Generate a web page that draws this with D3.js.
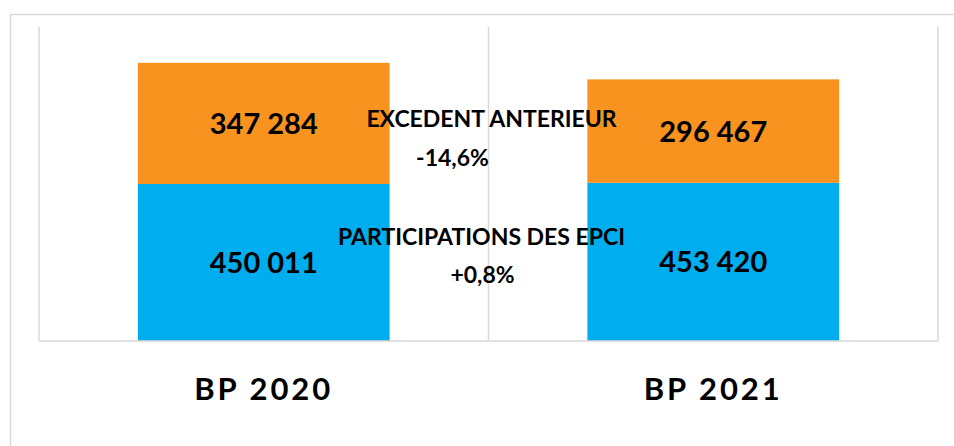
<!DOCTYPE html>
<html>
<head>
<meta charset="utf-8">
<script src="https://cdn.jsdelivr.net/npm/d3@7"></script>
<style>
  html, body { margin: 0; padding: 0; background: #fff; }
  svg { display: block; }
  text { font-family: Lato, "Liberation Sans", sans-serif; font-weight: bold; fill: #000; }
</style>
</head>
<body>
<svg id="chart" width="954" height="446"></svg>
<script>
(function () {

  const categories = ['BP 2020', 'BP 2021'];
  const participations = [450011, 453420];
  const excedent = [347284, 296467];
  const seriesNames = ['PARTICIPATIONS DES EPCI', 'EXCEDENT ANTERIEUR'];
  const changes = ['+0,8%', '-14,6%'];

  const svg = d3.select('#chart');
  const margin = { left: 39, right: 16, top: 27, bottom: 105 };
  const width = 954, height = 446;

  const x = d3.scaleBand()
    .domain(categories)
    .range([margin.left, width - margin.right])
    .paddingInner(0.44)
    .paddingOuter(0.22);

  const y = d3.scaleLinear()
    .domain([0, 900000])
    .range([height - margin.bottom, margin.top]);

  const fmt = v => d3.format(',')(v).replace(/,/g, ' ');

  // chart area border (runs off right/bottom)
  svg.append('rect')
    .attr('x', 10.5).attr('y', 14.5)
    .attr('width', 1000).attr('height', 1000)
    .attr('fill', 'none').attr('stroke', '#d9d9d9').attr('stroke-width', 1.5);

  // vertical category gridlines
  const edges = [margin.left, margin.left + (width - margin.left - margin.right) / 2, width - margin.right];
  svg.append('g').selectAll('line')
    .data(edges)
    .join('line')
    .attr('x1', d => d).attr('x2', d => d)
    .attr('y1', y(900000)).attr('y2', y(0))
    .attr('stroke', '#d9d9d9').attr('stroke-width', 1.5);

  const stacked = categories.map((c, i) => ({
    cat: c,
    segs: [
      { y0: 0, y1: participations[i], v: participations[i], color: '#00AEEF' },
      { y0: participations[i], y1: participations[i] + excedent[i], v: excedent[i], color: '#F7931E' }
    ]
  }));

  const g = svg.append('g');
  stacked.forEach(d => {
    g.selectAll(null)
      .data(d.segs)
      .join('rect')
      .attr('x', x(d.cat))
      .attr('width', x.bandwidth())
      .attr('y', s => y(s.y1))
      .attr('height', s => y(s.y0) - y(s.y1))
      .attr('fill', s => s.color);

    g.selectAll(null)
      .data(d.segs)
      .join('text')
      .attr('x', x(d.cat) + x.bandwidth() / 2)
      .attr('y', s => (y(s.y0) + y(s.y1)) / 2)
      .attr('dy', '0.36em')
      .attr('text-anchor', 'middle')
      .style('font-size', '29px')
      .text(s => fmt(s.v));
  });

  // baseline
  svg.append('line')
    .attr('x1', margin.left).attr('x2', width - margin.right)
    .attr('y1', y(0)).attr('y2', y(0))
    .attr('stroke', '#d9d9d9').attr('stroke-width', 1.5);

  // category labels
  svg.append('g').selectAll('text')
    .data(categories)
    .join('text')
    .attr('x', d => x(d) + x.bandwidth() / 2)
    .attr('y', 400)
    .attr('text-anchor', 'middle')
    .style('font-size', '31px')
    .style('letter-spacing', '3px')
    .text(d => d);

  // series annotations between the bars
  const mid = edges[1];
  const notes = [
    { name: seriesNames[1], change: changes[1], y: 127, cy: 166, dx: 3, cdx: -36 },
    { name: seriesNames[0], change: changes[0], y: 245, cy: 283, dx: -7, cdx: -6 }
  ];
  notes.forEach(n => {
    svg.append('text')
      .attr('x', mid + n.dx).attr('y', n.y)
      .attr('text-anchor', 'middle')
      .style('font-size', '23px')
      .text(n.name);
    svg.append('text')
      .attr('x', mid + n.cdx).attr('y', n.cy)
      .attr('text-anchor', 'middle')
      .style('font-size', '23px')
      .text(n.change);
  });

})();
</script>
</body>
</html>
